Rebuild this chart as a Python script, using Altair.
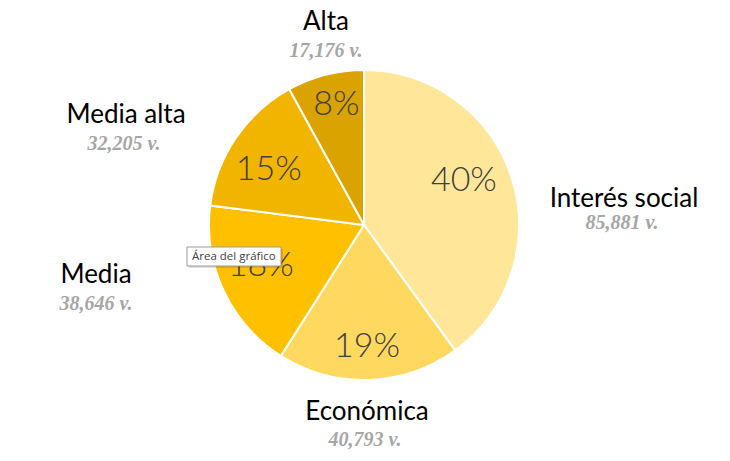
import altair as alt
import pandas as pd

# ---- data ----
categories = ["Interés social", "Económica", "Media", "Media alta", "Alta"]
values = [85881, 40793, 38646, 32205, 17176]

# ---- style / layout (kept apart from the data) ----
colors = ["#FFE699", "#FFD85F", "#FFC000", "#F1B500", "#DAA300"]
pct_radius = [109, 122, 111, 110, 123]
pct_angle_shift = [-5.6, 0.4, 3.5, -4.2, 1.4]  # degrees
# label offsets from pie centre, in pixels
name_dx = [260, 3, -268, -238, -38]
name_dy = [-26, 187, 50, -110, -203]
val_dx = [258, 1, -268, -240, -38]
val_dy = [-2, 215, 79, -81, -174]

PAD_T = 6
W, H = 712, 422
PAD_B = 445 - PAD_T - H
CX, CY = W / 2, H / 2

df = pd.DataFrame({
    "cat": categories,
    "value": values,
    "idx": list(range(len(categories))),
    "pr": pct_radius,
    "pa": pct_angle_shift,
    "nx": [CX + d for d in name_dx],
    "ny": [CY + d for d in name_dy],
    "vx": [CX + d for d in val_dx],
    "vy": [CY + d for d in val_dy],
})

color_scale = alt.Scale(domain=categories, range=colors)

base = alt.Chart(df).transform_joinaggregate(
    total="sum(value)"
).transform_calculate(
    pct="datum.value / datum.total",
    vlabel="format(datum.value, ',') + ' v.'",
)

pie = base.mark_arc(outerRadius=155, stroke="white", strokeWidth=2).encode(
    theta=alt.Theta("value:Q", stack=True),
    order=alt.Order("idx:Q"),
    color=alt.Color("cat:N", scale=color_scale, legend=None),
)

pct = base.transform_window(
    cum="sum(value)", sort=[alt.SortField("idx")]
).transform_calculate(
    mid="(datum.cum - datum.value / 2) / datum.total * 2 * PI + datum.pa * PI / 180",
    px=f"{CX} + datum.pr * sin(datum.mid)",
    py=f"{CY} - datum.pr * cos(datum.mid)",
    ptxt="format(datum.pct, '.0%')",
).mark_text(
    font="Lato", fontSize=34, fontWeight=300, color="#404040",
    align="center", baseline="middle",
).encode(
    x=alt.X("px:Q", scale=None),
    y=alt.Y("py:Q", scale=None),
    text="ptxt:N",
)

names = base.mark_text(
    font="Lato", fontSize=26, color="#000000", align="center", baseline="middle"
).encode(
    x=alt.X("nx:Q", scale=None),
    y=alt.Y("ny:Q", scale=None),
    text="cat:N",
)

vals = base.mark_text(
    font="Liberation Serif", fontSize=20, fontStyle="italic", fontWeight="bold",
    color="#A6A6A6", align="center", baseline="middle"
).encode(
    x=alt.X("vx:Q", scale=None),
    y=alt.Y("vy:Q", scale=None),
    text="vlabel:N",
)

# tooltip box visible in the reference screenshot
TX, TY = 179, 239 - PAD_T
tip_df = pd.DataFrame({"t": ["Área del gráfico"]})
tip_shadow = alt.Chart(tip_df).mark_rect(color="#000000", opacity=0.12).encode(
    x=alt.value(TX + 2), x2=alt.value(TX + 96), y=alt.value(TY + 2), y2=alt.value(TY + 21)
)
tip_box = alt.Chart(tip_df).mark_rect(
    fill="#FFFFFF", stroke="#9A9A9A", strokeWidth=1
).encode(
    x=alt.value(TX), x2=alt.value(TX + 94), y=alt.value(TY), y2=alt.value(TY + 19)
)
tip_text = alt.Chart(tip_df).mark_text(
    font="Open Sans", fontSize=11.5, color="#404040", align="left", baseline="middle"
).encode(
    x=alt.value(TX + 5), y=alt.value(TY + 9.5), text="t:N"
)

chart = alt.layer(pie, pct, names, vals, tip_shadow, tip_box, tip_text).properties(
    width=W, height=H,
    padding={"left": 0, "right": 0, "top": PAD_T, "bottom": PAD_B},
    autosize=alt.AutoSizeParams(type="none"),
).configure_view(stroke=None)

chart.save("out.html", embed_options={"renderer": "svg", "actions": False})
